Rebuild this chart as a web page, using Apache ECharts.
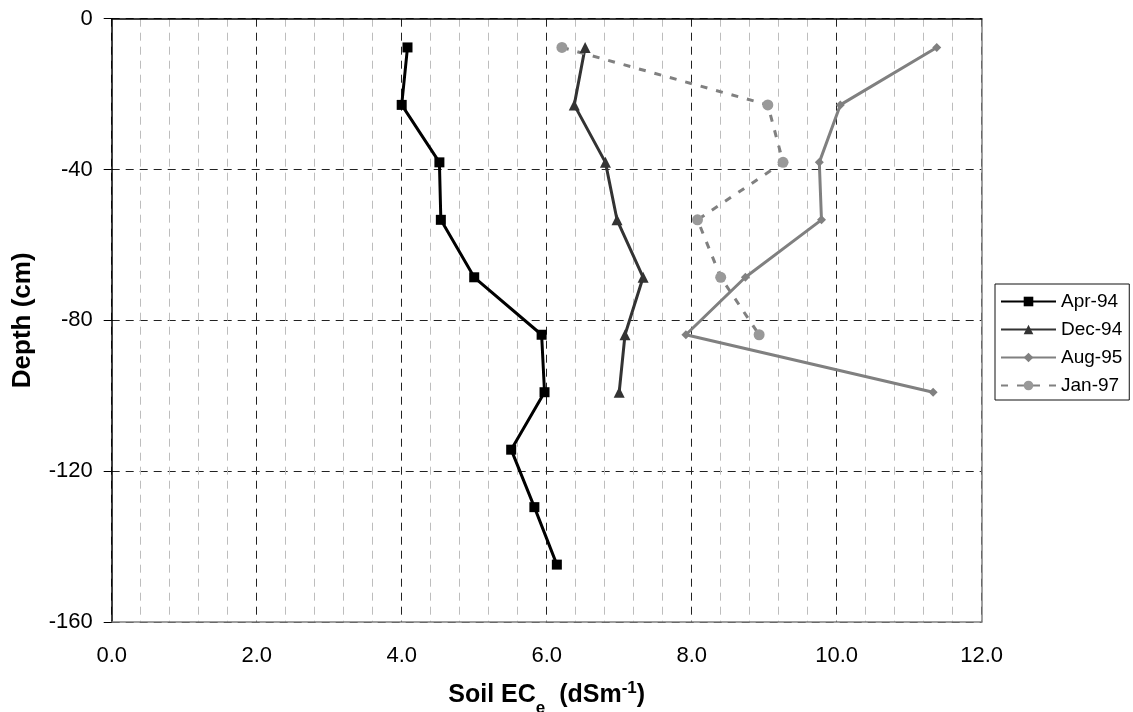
<!DOCTYPE html>
<html>
<head>
<meta charset="utf-8">
<script src="https://cdn.jsdelivr.net/npm/echarts@6/dist/echarts.min.js"></script>
<style>
  html, body { margin: 0; padding: 0; background: #fff; }
  #chart { width: 1133px; height: 712px; }
</style>
</head>
<body>
<div id="chart"></div>
<script>
// Sampling depths (cm), 3-inch steps from 3 in down to 57 in
const depths = [-7.62, -22.86, -38.1, -53.34, -68.58, -83.82, -99.06, -114.3, -129.54, -144.78];

// Soil ECe (dS/m) at each depth, per sampling date
const seriesNames = ['Apr-94', 'Dec-94', 'Aug-95', 'Jan-97'];
const ecApr94 = [4.08, 4.00, 4.52, 4.54, 5.00, 5.93, 5.97, 5.51, 5.83, 6.14];
const ecDec94 = [6.53, 6.38, 6.81, 6.97, 7.33, 7.08, 7.00];
const ecAug95 = [11.38, 10.05, 9.76, 9.79, 8.74, 7.92, 11.33];
const ecJan97 = [6.21, 9.05, 9.26, 8.08, 8.40, 8.93];

const xTicks = { min: 0, max: 12, interval: 2 };
const yTicks = { min: -160, max: 0, interval: 40 };

const pairs = (xs) => xs.map((v, i) => [v, depths[i]]);

const FONT = 'Liberation Sans, Arial, sans-serif';

const chart = echarts.init(document.getElementById('chart'), null, { renderer: 'canvas' });

chart.setOption({
  backgroundColor: '#ffffff',
  animation: false,
  textStyle: { fontFamily: FONT },
  grid: {
    left: 111.7, right: 151.3, top: 18.7, bottom: 90,
    containLabel: false,
    outerBoundsMode: 'none'
  },
  legend: {
    orient: 'vertical',
    left: 995,
    top: 284,
    itemWidth: 55,
    itemHeight: 12,
    itemGap: 9,
    padding: [8, 7, 5, 5],
    borderColor: '#111',
    borderWidth: 1,
    textStyle: { fontFamily: FONT, fontSize: 19, color: '#000' },
    data: seriesNames
  },
  xAxis: [
    {
      type: 'value',
      min: xTicks.min, max: xTicks.max, interval: xTicks.interval,
      name: '{b|Soil EC}{sub|e}{b|  (dSm}{sup|-1}{b|)}',
      nameLocation: 'middle',
      nameGap: 58,
      nameTextStyle: {
        rich: {
          b: { fontFamily: FONT, fontSize: 25, fontWeight: 'bold', color: '#000', verticalAlign: 'bottom', height: 30 },
          sub: { fontFamily: FONT, fontSize: 17, fontWeight: 'bold', color: '#000', verticalAlign: 'bottom', padding: [0, 0, -7, 0] },
          sup: { fontFamily: FONT, fontSize: 17, fontWeight: 'bold', color: '#000', verticalAlign: 'top', padding: [0, 0, 10, 0] }
        }
      },
      axisLine: { show: true, onZero: false, lineStyle: { color: '#808080', width: 1.5 } },
      axisTick: { show: false },
      minorTick: { show: false, splitNumber: 5 },
      axisLabel: {
        fontFamily: FONT, fontSize: 22, color: '#000', margin: 23,
        formatter: (v) => v.toFixed(1)
      },
      splitLine: { show: true, lineStyle: { color: '#222', type: [8, 6], width: 1 } },
      minorSplitLine: { show: true, lineStyle: { color: '#bdbdbd', type: [8, 6], width: 1 } }
    },
    {
      // top frame edge
      type: 'value', position: 'top',
      min: xTicks.min, max: xTicks.max, interval: xTicks.interval,
      axisLine: { show: true, onZero: false, lineStyle: { color: '#000', width: 1.5 } },
      axisTick: { show: false }, axisLabel: { show: false }, splitLine: { show: false }
    }
  ],
  yAxis: [
    {
      type: 'value',
      min: yTicks.min, max: yTicks.max, interval: yTicks.interval,
      name: 'Depth (cm)',
      nameLocation: 'middle',
      nameGap: 76,
      nameRotate: 90,
      nameTextStyle: { fontFamily: FONT, fontSize: 26, fontWeight: 'bold', color: '#000' },
      axisLine: { show: true, onZero: false, lineStyle: { color: '#000', width: 1.5 } },
      axisTick: { show: true, inside: false, length: 8, lineStyle: { color: '#000', width: 1 } },
      axisLabel: { fontFamily: FONT, fontSize: 22, color: '#000', margin: 19 },
      splitLine: { show: true, lineStyle: { color: '#222', type: [8, 6], width: 1 } }
    },
    {
      // right frame edge
      type: 'value', position: 'right',
      min: yTicks.min, max: yTicks.max, interval: yTicks.interval,
      axisLine: { show: true, onZero: false, lineStyle: { color: '#808080', width: 1.5 } },
      axisTick: { show: false }, axisLabel: { show: false }, splitLine: { show: false }
    }
  ],
  series: [
    {
      name: seriesNames[0], type: 'line', data: pairs(ecApr94),
      symbol: 'rect', symbolSize: 10,
      lineStyle: { color: '#000', width: 3 },
      itemStyle: { color: '#000' }
    },
    {
      name: seriesNames[1], type: 'line', data: pairs(ecDec94),
      symbol: 'triangle', symbolSize: 11,
      lineStyle: { color: '#333', width: 3 },
      itemStyle: { color: '#333' }
    },
    {
      name: seriesNames[2], type: 'line', data: pairs(ecAug95),
      symbol: 'diamond', symbolSize: 9,
      lineStyle: { color: '#808080', width: 3 },
      itemStyle: { color: '#808080' }
    },
    {
      name: seriesNames[3], type: 'line', data: pairs(ecJan97),
      symbol: 'circle', symbolSize: 11,
      lineStyle: { color: '#808080', width: 3, type: [7, 9] },
      itemStyle: { color: '#999999' }
    }
  ]
});
</script>
</body>
</html>
